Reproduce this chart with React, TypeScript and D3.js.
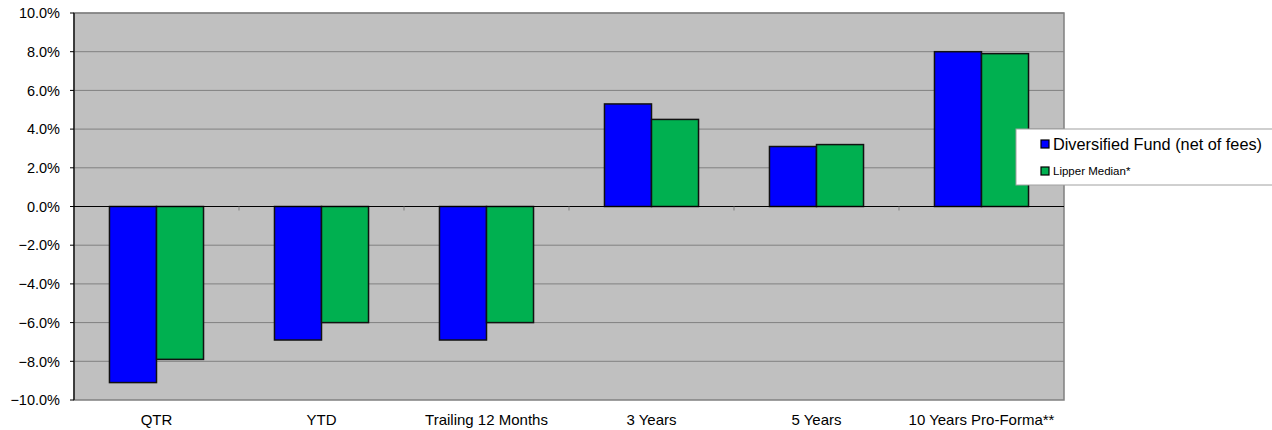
import React, { useEffect, useRef } from "react";
import * as d3 from "d3";

const categories = ["QTR", "YTD", "Trailing 12 Months", "3 Years", "5 Years", "10 Years Pro-Forma**"];
const seriesNames = ["Diversified Fund (net of fees)", "Lipper Median*"];
const fundValues = [-9.1, -6.9, -6.9, 5.3, 3.1, 8.0];
const medianValues = [-7.9, -6.0, -6.0, 4.5, 3.2, 7.9];
const yTicks = [10, 8, 6, 4, 2, 0, -2, -4, -6, -8, -10];
const colors = ["#0000FF", "#00B050"];

const App: React.FC = () => {
  const ref = useRef<SVGSVGElement>(null);

  useEffect(() => {
    if (!ref.current) return;
    const svg = d3.select(ref.current);
    svg.selectAll("*").remove();

    const left = 74;
    const right = 1064;
    const top = 13;
    const bottom = 400;
    const font = "Liberation Sans, Arial, sans-serif";

    const x = d3.scaleBand<string>().domain(categories).range([left, right]).padding(0);
    const groupW = x.bandwidth() * 0.57;
    const x1 = d3.scaleBand<string>().domain(seriesNames).range([0, groupW]).padding(0);
    const y = d3.scaleLinear().domain([-10, 10]).range([bottom, top]);

    // plot background
    svg
      .append("rect")
      .attr("x", left)
      .attr("y", top)
      .attr("width", right - left)
      .attr("height", bottom - top)
      .attr("fill", "#C0C0C0")
      .attr("stroke", "#808080")
      .attr("stroke-width", 1.5);

    // gridlines
    svg
      .append("g")
      .selectAll("line")
      .data(yTicks.filter((t) => t !== 0 && t !== -10))
      .enter()
      .append("line")
      .attr("x1", left)
      .attr("x2", right)
      .attr("y1", (d) => y(d))
      .attr("y2", (d) => y(d))
      .attr("stroke", "#808080")
      .attr("stroke-width", 1);

    // bars
    const data = categories.map((c, i) => ({ c, vals: [fundValues[i], medianValues[i]] }));
    const groups = svg
      .append("g")
      .selectAll("g")
      .data(data)
      .enter()
      .append("g")
      .attr("transform", (d) => `translate(${(x(d.c) as number) + (x.bandwidth() - groupW) / 2},0)`);

    groups
      .selectAll("rect")
      .data((d) => d.vals.map((v, i) => ({ v, s: seriesNames[i], i })))
      .enter()
      .append("rect")
      .attr("x", (d) => x1(d.s) as number)
      .attr("width", x1.bandwidth())
      .attr("y", (d) => y(Math.max(0, d.v)))
      .attr("height", (d) => Math.abs(y(d.v) - y(0)))
      .attr("fill", (d) => colors[d.i])
      .attr("stroke", "#111")
      .attr("stroke-width", 1.5);

    // zero line + category ticks
    svg
      .append("line")
      .attr("x1", left)
      .attr("x2", right)
      .attr("y1", y(0))
      .attr("y2", y(0))
      .attr("stroke", "#000")
      .attr("stroke-width", 1.2);
    svg
      .append("g")
      .selectAll("line")
      .data(categories.slice(1))
      .enter()
      .append("line")
      .attr("x1", (d) => x(d) as number)
      .attr("x2", (d) => x(d) as number)
      .attr("y1", y(0))
      .attr("y2", y(0) + 4)
      .attr("stroke", "#808080");

    // y axis
    svg
      .append("line")
      .attr("x1", left)
      .attr("x2", left)
      .attr("y1", top)
      .attr("y2", bottom)
      .attr("stroke", "#000")
      .attr("stroke-width", 1.2);
    const yAxis = svg.append("g");
    yAxis
      .selectAll("line")
      .data(yTicks)
      .enter()
      .append("line")
      .attr("x1", left - 4)
      .attr("x2", left)
      .attr("y1", (d) => y(d))
      .attr("y2", (d) => y(d))
      .attr("stroke", "#000");
    yAxis
      .selectAll("text")
      .data(yTicks)
      .enter()
      .append("text")
      .attr("x", left - 14)
      .attr("y", (d) => y(d))
      .attr("dy", "0.36em")
      .attr("text-anchor", "end")
      .attr("font-family", font)
      .attr("font-size", 14.5)
      .text((d) => d3.format(".1f")(d) + "%");

    // x labels
    svg
      .append("g")
      .selectAll("text")
      .data(categories)
      .enter()
      .append("text")
      .attr("x", (d) => (x(d) as number) + x.bandwidth() / 2)
      .attr("y", 425)
      .attr("text-anchor", "middle")
      .attr("font-family", font)
      .attr("font-size", 15)
      .text((d) => d);

    // legend
    const lg = svg.append("g");
    lg.append("rect")
      .attr("x", 1016)
      .attr("y", 129)
      .attr("width", 270)
      .attr("height", 56)
      .attr("fill", "#fff")
      .attr("stroke", "#A0A0A0");
    const legendRows = [
      { size: 8, y: 144, fs: 16.3 },
      { size: 8, y: 171, fs: 11.5 },
    ];
    seriesNames.forEach((s, i) => {
      const r = legendRows[i];
      lg.append("rect")
        .attr("x", 1041)
        .attr("y", r.y - r.size / 2)
        .attr("width", r.size)
        .attr("height", r.size)
        .attr("fill", colors[i])
        .attr("stroke", "#000")
        .attr("stroke-width", 1.2);
      lg.append("text")
        .attr("x", 1053)
        .attr("y", r.y)
        .attr("dy", "0.36em")
        .attr("font-family", font)
        .attr("font-size", r.fs)
        .text(s);
    });
  }, []);

  return (
    <svg
      ref={ref}
      width={1272}
      height={430}
      style={{ position: "absolute", left: 0, top: 0, background: "#fff" }}
    />
  );
};

export default App;
